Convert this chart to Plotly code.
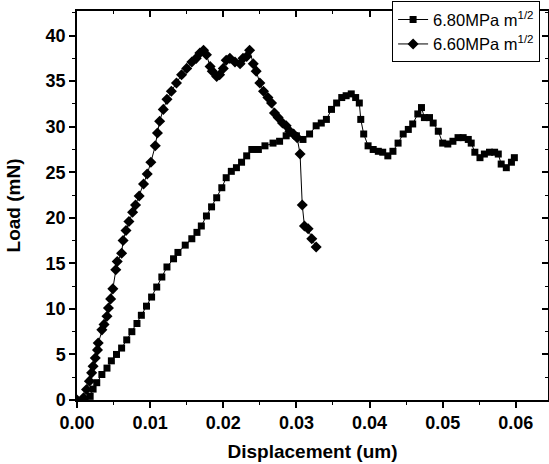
import plotly.graph_objects as go

# Series: 6.80 MPa m^1/2 (squares)
x680 = [0.0011, 0.0018, 0.0022, 0.0027, 0.0034, 0.0041, 0.0047, 0.0054, 0.0061, 0.0068,
        0.0075, 0.0082, 0.0088, 0.0095, 0.0102, 0.0109, 0.0116, 0.0123, 0.0132, 0.0138,
        0.0148, 0.0157, 0.0164, 0.0170, 0.0177, 0.0184, 0.0191, 0.0198, 0.0204, 0.0211,
        0.0218, 0.0225, 0.0232, 0.0239, 0.0248, 0.0257, 0.0268, 0.0277, 0.0286, 0.0293,
        0.0300, 0.0309, 0.0318, 0.0327, 0.0334, 0.0341, 0.0348, 0.0355, 0.0362, 0.0368,
        0.0375, 0.0381, 0.0386, 0.0388, 0.0392, 0.0398, 0.0405, 0.0412, 0.0418, 0.0425,
        0.0432, 0.0439, 0.0446, 0.0453, 0.0459, 0.0466, 0.0471, 0.0475, 0.0482, 0.0487,
        0.0494, 0.0500, 0.0507, 0.0514, 0.0521, 0.0528, 0.0535, 0.0539, 0.0544, 0.0551,
        0.0557, 0.0564, 0.0571, 0.0576, 0.0580, 0.0587, 0.0594, 0.0598]
y680 = [0.07, 0.4, 1.2, 1.9, 2.8, 3.5, 4.3, 5.0, 5.7, 6.6,
        7.5, 8.4, 9.3, 10.3, 11.3, 12.4, 13.5, 14.6, 15.5, 16.2,
        17.0, 17.7, 18.4, 19.1, 20.2, 21.2, 22.2, 23.3, 24.4, 25.1,
        25.5, 26.1, 26.8, 27.5, 27.5, 27.9, 28.2, 28.4, 29.0, 29.3,
        29.0, 28.6, 29.2, 30.1, 30.4, 30.8, 31.9, 32.6, 33.2, 33.4,
        33.6, 33.2, 32.6, 30.8, 29.2, 27.9, 27.5, 27.3, 27.2, 26.8,
        27.3, 28.2, 29.2, 29.7, 30.3, 31.4, 32.1, 31.0, 31.0, 30.4,
        29.5, 28.2, 28.1, 28.4, 28.8, 28.8, 28.6, 28.2, 27.2, 26.6,
        27.0, 27.2, 27.2, 27.0, 25.9, 25.5, 26.1, 26.6]

# Series: 6.60 MPa m^1/2 (dots)
x660 = [0.0, 0.0009, 0.0013, 0.0017, 0.0020, 0.0022, 0.0025, 0.0028, 0.0029, 0.0034,
        0.0037, 0.0041, 0.0043, 0.0046, 0.0049, 0.0053, 0.0055, 0.0061, 0.0063, 0.0067,
        0.0071, 0.0076, 0.0080, 0.0085, 0.0091, 0.0096, 0.0101, 0.0107, 0.0110, 0.0113,
        0.0118, 0.0123, 0.0129, 0.0136, 0.0143, 0.0150, 0.0157, 0.0163, 0.0168, 0.0173,
        0.0177, 0.0182, 0.0185, 0.0191, 0.0195, 0.0200, 0.0204, 0.0209, 0.0216, 0.0223,
        0.0227, 0.0232, 0.0236, 0.0241, 0.0245, 0.0250, 0.0255, 0.0261, 0.0266, 0.0270,
        0.0275, 0.0281, 0.0286, 0.0291, 0.0296, 0.0301, 0.0305, 0.0308, 0.0311, 0.0316,
        0.0321, 0.0327]
y660 = [0.0, 0.25, 1.16, 2.07, 2.98, 3.7, 4.6, 5.5, 6.25, 7.7,
        8.3, 9.2, 10.1, 11.1, 12.2, 14.3, 15.2, 16.1, 17.5, 18.6,
        19.6, 20.6, 21.4, 22.4, 23.7, 24.8, 26.1, 27.9, 29.3, 30.6,
        31.9, 33.0, 33.9, 34.8, 35.7, 36.4, 37.1, 37.5, 38.1, 38.4,
        37.9, 36.6, 36.1, 35.5, 35.7, 36.4, 37.3, 37.5, 37.1, 36.9,
        37.5, 37.7, 38.4, 36.9, 36.1, 34.8, 33.9, 33.2, 32.6, 31.5,
        31.0, 30.4, 30.1, 29.5, 29.2, 28.8, 27.0, 21.4, 19.1, 18.8,
        17.7, 16.8]

x_ticks = [0.00, 0.01, 0.02, 0.03, 0.04, 0.05, 0.06]
x_ticklabels = ["0.00", "0.01", "0.02", "0.03", "0.04", "0.05", "0.06"]
y_ticks = [0, 5, 10, 15, 20, 25, 30, 35, 40]

FONT = "Liberation Sans, Arial, sans-serif"
XR = [0, 0.0644]
YR = [0, 42.7]

fig = go.Figure()
fig.add_trace(go.Scatter(
    x=x680, y=y680, mode="lines+markers", name="6.80MPa m<sup>1/2</sup>",
    line=dict(color="black", width=1),
    marker=dict(symbol="square", size=7, color="black"),
))
fig.add_trace(go.Scatter(
    x=x660, y=y660, mode="lines+markers", name="6.60MPa m<sup>1/2</sup>",
    line=dict(color="black", width=1),
    marker=dict(symbol="diamond", size=8.5, color="black"),
))
# empty trace to carry the mirrored top/right axes
fig.add_trace(go.Scatter(x=[], y=[], xaxis="x2", yaxis="y2", showlegend=False,
                         hoverinfo="skip"))

fig.update_layout(
    width=549, height=464,
    margin=dict(l=77, r=1, t=7, b=64),
    paper_bgcolor="white", plot_bgcolor="white",
    font=dict(family=FONT, color="black"),
    showlegend=True,
    legend=dict(
        x=0.669, xanchor="left", y=1.025, yanchor="top",
        bgcolor="white", bordercolor="black", borderwidth=1,
        font=dict(family=FONT, size=16.5, color="black"),
        itemwidth=30, tracegroupgap=0,
    ),
    xaxis=dict(
        range=XR, tickvals=x_ticks, ticktext=x_ticklabels, automargin=False,
        showgrid=False, zeroline=False, showline=True, linecolor="black", linewidth=1.5,
        ticks="outside", ticklen=6, tickwidth=1.5, tickcolor="black",
        minor=dict(ticks="outside", ticklen=3, tickwidth=1, tickcolor="black", dtick=0.005, tick0=0),
        tickfont=dict(family=FONT, size=18, weight="bold"),
        title=dict(text="Displacement (um)", font=dict(family=FONT, size=19, weight="bold"), standoff=12),
    ),
    yaxis=dict(
        range=YR, tickvals=y_ticks, automargin=False,
        showgrid=False, zeroline=False, showline=True, linecolor="black", linewidth=1.5,
        ticks="outside", ticklen=6, tickwidth=1.5, tickcolor="black",
        minor=dict(ticks="outside", ticklen=3, tickwidth=1, tickcolor="black", dtick=2.5, tick0=0),
        tickfont=dict(family=FONT, size=18, weight="bold"),
        title=dict(text="Load (mN)", font=dict(family=FONT, size=19, weight="bold"), standoff=20),
    ),
    xaxis2=dict(
        range=XR, overlaying="x", side="top", tickvals=x_ticks, showticklabels=False,
        automargin=False,
        showgrid=False, zeroline=False, showline=True, linecolor="black", linewidth=1.5,
        ticks="inside", ticklen=6, tickwidth=1.5, tickcolor="black",
        minor=dict(ticks="inside", ticklen=3, tickwidth=1, tickcolor="black", dtick=0.005, tick0=0),
    ),
    yaxis2=dict(
        range=YR, overlaying="y", side="right", tickvals=y_ticks, showticklabels=False,
        automargin=False,
        showgrid=False, zeroline=False, showline=True, linecolor="black", linewidth=1.5,
        ticks="inside", ticklen=6, tickwidth=1.5, tickcolor="black",
        minor=dict(ticks="inside", ticklen=3, tickwidth=1, tickcolor="black", dtick=2.5, tick0=0),
    ),
)

fig.write_html(
    "out.html",
    config={"displayModeBar": False},
    post_script="document.body.style.margin='0';document.body.style.padding='0';",
)
